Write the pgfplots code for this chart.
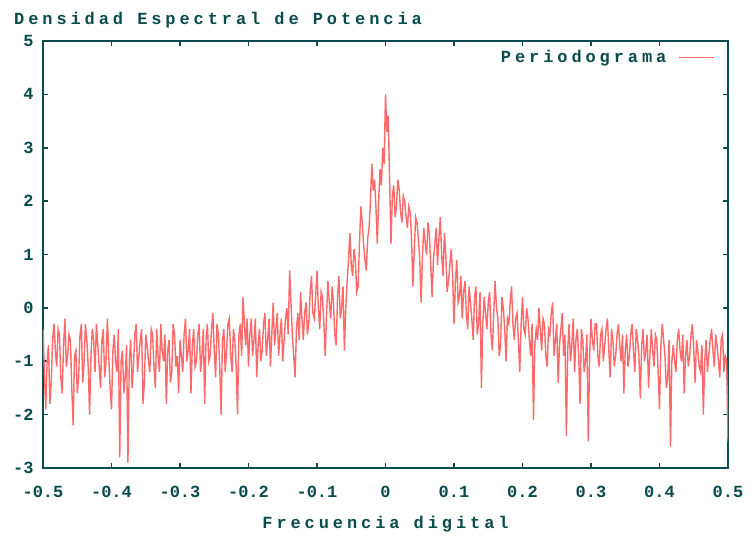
\documentclass[border=0pt]{standalone}
\usepackage{fontspec}
\usepackage{pgfplots}
\pgfplotsset{compat=1.18}
\usetikzlibrary{calc}
\newfontfamily\mono{Liberation Mono}
\newfontfamily\spaced[LetterSpace=23]{Liberation Mono}
\definecolor{frame}{RGB}{10,75,75}
\definecolor{pline}{RGB}{255,105,105}
\begin{document}
\begin{tikzpicture}
\begin{axis}[
  name=ax,
  scale only axis,
  width=685bp, height=427bp,
  xmin=-0.5, xmax=0.5, ymin=-3, ymax=5,
  xtick={-0.5,-0.4,-0.3,-0.2,-0.1,0,0.1,0.2,0.3,0.4,0.5},
  ytick={-3,-2,-1,0,1,2,3,4,5},
  /pgf/number format/assume math mode=true,
  axis line style={draw=frame, line width=2bp},
  tick style={draw=frame, line width=1.6bp},
  major tick length=5bp,
  tick align=inside,
  ticklabel style={font=\mono\bfseries\fontsize{17bp}{20bp}\selectfont, text=frame},
  xticklabel style={yshift=-15bp},
  yticklabel style={xshift=-6bp},
  title={\spaced\bfseries Densidad Espectral de Potencia},
  title style={at={(rel axis cs:0,1)}, anchor=west, xshift=-29bp, yshift=15bp, inner sep=0pt,
    font=\fontsize{17bp}{20bp}\selectfont, text=frame},
  xlabel={\spaced\bfseries Frecuencia digital},
  xlabel style={at={(rel axis cs:0.5,0)}, anchor=center, yshift=-56bp, inner sep=0pt,
    font=\fontsize{17bp}{20bp}\selectfont, text=frame},
  legend plot pos=right,
  legend style={draw=none, fill=none, at={(rel axis cs:0.981,0.962)}, anchor=east,
    font=\spaced\bfseries\fontsize{17bp}{20bp}\selectfont, text=frame, inner sep=0pt},
  legend image code/.code={\draw[#1] (0bp,0bp) -- (35bp,0bp);},
]
\addplot[color=pline, line width=1.4bp] coordinates {
(-0.500,-0.4) (-0.498,-1.2) (-0.496,-1.9) (-0.494,-1.0) (-0.492,-0.7) (-0.490,-1.8) (-0.488,-1.4) (-0.486,-0.6) (-0.484,-0.3) (-0.482,-0.8) (-0.480,-1.1) (-0.478,-0.4) (-0.476,-0.5) (-0.474,-1.3) (-0.472,-1.6) (-0.470,-0.7) (-0.468,-0.2) (-0.466,-1.1) (-0.464,-0.9) (-0.462,-0.5)
(-0.460,-0.6) (-0.458,-1.5) (-0.456,-2.2) (-0.454,-0.9) (-0.452,-0.8) (-0.450,-1.6) (-0.448,-1.3) (-0.446,-0.5) (-0.444,-0.3) (-0.442,-1.4) (-0.440,-1.0) (-0.438,-0.3) (-0.436,-0.6) (-0.434,-1.1) (-0.432,-2.0) (-0.430,-0.9) (-0.428,-0.4) (-0.426,-0.6) (-0.424,-1.2) (-0.422,-0.3)
(-0.420,-0.7) (-0.418,-1.1) (-0.416,-1.5) (-0.414,-0.6) (-0.412,-0.4) (-0.410,-1.3) (-0.408,-1.0) (-0.406,-0.2) (-0.404,-0.9) (-0.402,-1.5) (-0.400,-1.9) (-0.398,-0.8) (-0.396,-0.5) (-0.394,-1.0) (-0.392,-1.2) (-0.390,-0.4) (-0.388,-2.8) (-0.386,-1.0) (-0.384,-0.8) (-0.382,-1.6)
(-0.380,-1.3) (-0.378,-0.7) (-0.376,-2.9) (-0.374,-1.0) (-0.372,-0.6) (-0.370,-1.5) (-0.368,-1.1) (-0.366,-0.5) (-0.364,-0.3) (-0.362,-1.2) (-0.360,-0.9) (-0.358,-0.6) (-0.356,-0.4) (-0.354,-1.8) (-0.352,-1.4) (-0.350,-0.5) (-0.348,-0.7) (-0.346,-1.0) (-0.344,-1.2) (-0.342,-0.4)
(-0.340,-0.5) (-0.338,-1.1) (-0.336,-1.5) (-0.334,-0.4) (-0.332,-0.9) (-0.330,-1.2) (-0.328,-0.3) (-0.326,-0.8) (-0.324,-1.0) (-0.322,-0.5) (-0.320,-1.8) (-0.318,-0.8) (-0.316,-0.6) (-0.314,-1.4) (-0.312,-1.2) (-0.310,-0.3) (-0.308,-0.5) (-0.306,-1.1) (-0.304,-0.9) (-0.302,-1.6)
(-0.300,-0.6) (-0.298,-0.9) (-0.296,-1.2) (-0.294,-0.5) (-0.292,-0.2) (-0.290,-1.0) (-0.288,-0.8) (-0.286,-0.4) (-0.284,-1.6) (-0.282,-0.7) (-0.280,-0.4) (-0.278,-1.1) (-0.276,-1.0) (-0.274,-0.5) (-0.272,-0.3) (-0.270,-1.2) (-0.268,-0.9) (-0.266,-0.4) (-0.264,-1.8) (-0.262,-0.6)
(-0.260,-0.3) (-0.258,-1.0) (-0.256,-0.9) (-0.254,-0.4) (-0.252,-0.1) (-0.250,-0.8) (-0.248,-1.3) (-0.246,-0.3) (-0.244,-0.5) (-0.242,-1.1) (-0.240,-2.0) (-0.238,-0.6) (-0.236,-0.4) (-0.234,-1.2) (-0.232,-0.8) (-0.230,-0.3) (-0.228,-0.2) (-0.226,-0.9) (-0.224,-1.2) (-0.222,-0.4)
(-0.220,-0.6) (-0.218,-1.1) (-0.216,-2.0) (-0.214,-0.5) (-0.212,-0.3) (-0.210,-0.9) (-0.208,0.2) (-0.206,-0.3) (-0.204,-0.7) (-0.202,-0.2) (-0.200,-1.1) (-0.198,-0.5) (-0.196,-0.2) (-0.194,-0.9) (-0.192,-0.6) (-0.190,-0.2) (-0.188,-1.3) (-0.186,-0.7) (-0.184,-0.4) (-0.182,-1.0)
(-0.180,-0.8) (-0.178,-0.3) (-0.176,-0.1) (-0.174,-0.9) (-0.172,-0.6) (-0.170,-0.2) (-0.168,-1.1) (-0.166,-0.5) (-0.164,0.1) (-0.162,-0.7) (-0.160,-0.4) (-0.158,-0.1) (-0.156,-0.9) (-0.154,-0.5) (-0.152,-0.2) (-0.150,-1.0) (-0.148,-0.6) (-0.146,-0.2) (-0.144,0.0) (-0.142,-0.5)
(-0.140,0.7) (-0.138,0.1) (-0.136,-0.5) (-0.134,-0.9) (-0.132,-1.3) (-0.130,-0.4) (-0.128,-0.1) (-0.126,-0.6) (-0.124,0.3) (-0.122,-0.2) (-0.120,-0.6) (-0.118,-0.1) (-0.116,0.1) (-0.114,-0.5) (-0.112,-0.3) (-0.110,0.3) (-0.108,0.6) (-0.106,-0.1) (-0.104,-0.2) (-0.102,0.2)
(-0.100,0.7) (-0.098,0.0) (-0.096,-0.4) (-0.094,0.3) (-0.092,0.2) (-0.090,-0.3) (-0.088,-0.9) (-0.086,-0.1) (-0.084,0.5) (-0.082,0.1) (-0.080,-0.2) (-0.078,0.4) (-0.076,0.1) (-0.074,-0.5) (-0.072,-0.7) (-0.070,0.2) (-0.068,0.6) (-0.066,-0.2) (-0.064,0.0) (-0.062,0.4)
(-0.060,-0.8) (-0.058,0.0) (-0.056,0.5) (-0.054,0.9) (-0.052,1.4) (-0.050,0.8) (-0.048,0.6) (-0.046,1.1) (-0.044,0.9) (-0.042,0.3) (-0.040,0.4) (-0.038,1.2) (-0.036,1.9) (-0.034,1.6) (-0.032,1.2) (-0.030,0.9) (-0.028,0.7) (-0.026,1.3) (-0.024,1.5) (-0.022,2.0)
(-0.020,2.7) (-0.018,2.2) (-0.016,2.4) (-0.014,1.9) (-0.012,1.2) (-0.010,2.0) (-0.008,2.6) (-0.006,2.3) (-0.004,3.0) (-0.002,2.7) (0.000,4.0) (0.002,3.3) (0.004,3.6) (0.006,2.4) (0.008,1.2) (0.010,2.1) (0.012,2.3) (0.014,1.7) (0.016,1.9) (0.018,2.4)
(0.020,2.2) (0.022,1.8) (0.024,1.6) (0.026,2.1) (0.028,2.0) (0.030,1.7) (0.032,1.5) (0.034,1.9) (0.036,1.8) (0.038,1.3) (0.040,0.4) (0.042,1.1) (0.044,1.7) (0.046,1.6) (0.048,1.3) (0.050,0.9) (0.052,0.1) (0.054,1.0) (0.056,1.5) (0.058,1.2)
(0.060,1.0) (0.062,1.6) (0.064,1.4) (0.066,0.8) (0.068,0.2) (0.070,0.9) (0.072,1.2) (0.074,1.5) (0.076,0.8) (0.078,1.3) (0.080,1.7) (0.082,1.0) (0.084,0.6) (0.086,1.4) (0.088,1.0) (0.090,0.3) (0.092,0.5) (0.094,0.8) (0.096,1.1) (0.098,0.6)
(0.100,-0.3) (0.102,0.5) (0.104,0.9) (0.106,0.1) (0.108,0.2) (0.110,0.6) (0.112,-0.2) (0.114,0.3) (0.116,0.5) (0.118,-0.1) (0.120,-0.4) (0.122,0.4) (0.124,0.1) (0.126,-0.2) (0.128,-0.6) (0.130,0.2) (0.132,0.4) (0.134,-0.5) (0.136,-0.3) (0.138,0.3)
(0.140,-1.5) (0.142,-0.3) (0.144,0.2) (0.146,-0.1) (0.148,-0.4) (0.150,0.1) (0.152,0.3) (0.154,-0.5) (0.156,-0.8) (0.158,-0.1) (0.160,0.5) (0.162,0.0) (0.164,-0.2) (0.166,-0.9) (0.168,-0.7) (0.170,0.2) (0.172,0.0) (0.174,-0.4) (0.176,-1.0) (0.178,-0.2)
(0.180,-0.3) (0.182,0.1) (0.184,0.4) (0.186,-0.3) (0.188,-0.6) (0.190,-0.2) (0.192,-0.1) (0.194,-0.6) (0.196,-1.2) (0.198,-0.3) (0.200,0.2) (0.202,-0.4) (0.204,-0.5) (0.206,0.0) (0.208,-0.2) (0.210,-0.6) (0.212,-0.9) (0.214,-0.3) (0.216,-2.1) (0.218,-0.7)
(0.220,-0.4) (0.222,-0.6) (0.224,0.0) (0.226,-0.4) (0.228,-0.8) (0.230,-0.2) (0.232,-0.3) (0.234,-0.9) (0.236,-1.1) (0.238,-0.4) (0.240,-0.5) (0.242,-0.1) (0.244,0.1) (0.246,-0.9) (0.248,-0.6) (0.250,-0.3) (0.252,-1.4) (0.254,-0.7) (0.256,-0.4) (0.258,-0.1)
(0.260,-0.9) (0.262,-0.5) (0.264,-2.4) (0.266,-0.8) (0.268,-0.3) (0.270,-1.0) (0.272,-0.7) (0.274,-0.2) (0.276,-1.2) (0.278,-0.6) (0.280,-0.4) (0.282,-0.9) (0.284,-1.8) (0.286,-0.4) (0.288,-0.6) (0.290,-1.2) (0.292,-1.0) (0.294,-0.5) (0.296,-2.5) (0.298,-0.9)
(0.300,-0.2) (0.302,-0.6) (0.304,-0.8) (0.306,-0.3) (0.308,-0.3) (0.310,-0.9) (0.312,-1.1) (0.314,-0.5) (0.316,-0.4) (0.318,-1.0) (0.320,-0.7) (0.322,-0.4) (0.324,-0.2) (0.326,-0.8) (0.328,-1.3) (0.330,-0.4) (0.332,-0.6) (0.334,-1.1) (0.336,-0.9) (0.338,-0.5)
(0.340,-0.3) (0.342,-0.7) (0.344,-1.0) (0.346,-0.5) (0.348,-1.6) (0.350,-0.8) (0.352,-0.5) (0.354,-1.1) (0.356,-0.9) (0.358,-0.5) (0.360,-0.3) (0.362,-0.8) (0.364,-1.2) (0.366,-0.4) (0.368,-0.6) (0.370,-0.9) (0.372,-1.7) (0.374,-0.7) (0.376,-0.4) (0.378,-1.0)
(0.380,-0.8) (0.382,-0.5) (0.384,-1.5) (0.386,-0.9) (0.388,-0.4) (0.390,-0.8) (0.392,-1.1) (0.394,-0.5) (0.396,-0.6) (0.398,-1.2) (0.400,-1.9) (0.402,-0.7) (0.404,-0.3) (0.406,-0.6) (0.408,-0.9) (0.410,-1.5) (0.412,-1.3) (0.414,-0.6) (0.416,-2.6) (0.418,-1.0)
(0.420,-0.7) (0.422,-1.0) (0.424,-1.2) (0.426,-0.6) (0.428,-0.4) (0.430,-0.8) (0.432,-1.0) (0.434,-0.5) (0.436,-1.6) (0.438,-0.9) (0.440,-0.6) (0.442,-1.1) (0.444,-0.9) (0.446,-0.5) (0.448,-0.3) (0.450,-0.8) (0.452,-1.4) (0.454,-0.6) (0.456,-0.8) (0.458,-1.1)
(0.460,-1.2) (0.462,-0.7) (0.464,-2.0) (0.466,-1.0) (0.468,-0.6) (0.470,-1.2) (0.472,-0.9) (0.474,-0.6) (0.476,-0.4) (0.478,-0.8) (0.480,-1.1) (0.482,-0.5) (0.484,-0.7) (0.486,-1.0) (0.488,-1.3) (0.490,-0.6) (0.492,-0.5) (0.494,-1.2) (0.496,-0.9) (0.498,-1.0)
(0.500,-2.5)
};
\addlegendentry{Periodograma\hbox to 10bp{}}
\end{axis}
\pgfresetboundingbox
\path[use as bounding box] ($(ax.south west)+(-43bp,-70bp)$) rectangle ($(ax.north east)+(26bp,41bp)$);
\end{tikzpicture}
\end{document}
